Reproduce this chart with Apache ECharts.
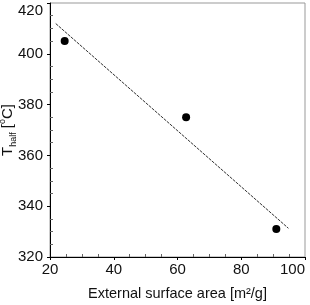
<!DOCTYPE html>
<html><head><meta charset="utf-8">
<script src="https://cdn.jsdelivr.net/npm/echarts@6/dist/echarts.min.js"></script>
<style>html,body{margin:0;padding:0;background:#fff}#c{width:310px;height:305px}</style>
</head><body><div id="c"></div>
<script>
// Data
const pointsX = [24.6, 62.7, 91.0];
const pointsY = [405, 375, 331];
const fitX = [21.8, 94.8];
const fitY = [411.9, 331.3];
const xTicks = [20, 40, 60, 80, 100];
const yTicks = [320, 340, 360, 380, 400, 420];

const font = 'Liberation Sans, Arial, sans-serif';
const chart = echarts.init(document.getElementById('c'), null, {renderer: 'canvas'});
chart.setOption({
  animation: false,
  backgroundColor: '#fff',
  grid: {left: 50, right: 5, top: 3, bottom: 48, containLabel: false, outerBoundsMode: 'none',
         show: true, borderColor: '#999', borderWidth: 1},
  xAxis: {
    type: 'value', min: xTicks[0], max: xTicks[xTicks.length-1], interval: 20,
    axisLine: {lineStyle: {color: '#000', width: 1}},
    axisTick: {length: 3, lineStyle: {color: '#000'}},
    minorTick: {show: true, splitNumber: 4, length: -3, lineStyle: {color: '#666'}},
    splitLine: {show: false},
    axisLabel: {fontFamily: font, fontSize: 15, color: '#111', margin: 5, alignMaxLabel: 'right'},
    name: 'External surface area [m\u00B2/g]', nameLocation: 'middle', nameGap: 29, nameMoveOverlap: false,
    nameTextStyle: {fontFamily: font, fontSize: 14.5, color: '#111'}
  },
  yAxis: {
    type: 'value', min: yTicks[0], max: yTicks[yTicks.length-1], interval: 20,
    axisLine: {lineStyle: {color: '#000', width: 1}},
    axisTick: {length: 3, lineStyle: {color: '#000'}},
    minorTick: {show: true, splitNumber: 4, length: -3, lineStyle: {color: '#666'}},
    splitLine: {show: false},
    axisLabel: {fontFamily: font, fontSize: 15, color: '#111', margin: 7, verticalAlignMaxLabel: 'top'},
    name: '{n|T}{s|half}{n| [}{u|o}{n|C]}', nameLocation: 'middle', nameGap: 32, nameMoveOverlap: false,
    nameTextStyle: {
      fontFamily: font, fontSize: 15, color: '#111',
      rich: {
        n: {fontFamily: font, fontSize: 15, color: '#111', lineHeight: 20, verticalAlign: 'middle'},
        s: {fontFamily: font, fontSize: 9, color: '#111', lineHeight: 20, verticalAlign: 'bottom', padding: [6,0,0,0]},
        u: {fontFamily: font, fontSize: 9, color: '#111', lineHeight: 20, verticalAlign: 'top', padding: [0,0,6,0]}
      }
    }
  },
  series: [
    {
      type: 'line', data: fitX.map((x, i) => [x, fitY[i]]), showSymbol: false, symbol: 'none',
      lineStyle: {color: '#333', width: 1, type: [3, 1]}, z: 2
    },
    {
      type: 'scatter', data: pointsX.map((x, i) => [x, pointsY[i]]), symbol: 'circle', symbolSize: 8,
      itemStyle: {color: '#000', opacity: 1}, z: 3
    }
  ]
});
</script></body></html>
